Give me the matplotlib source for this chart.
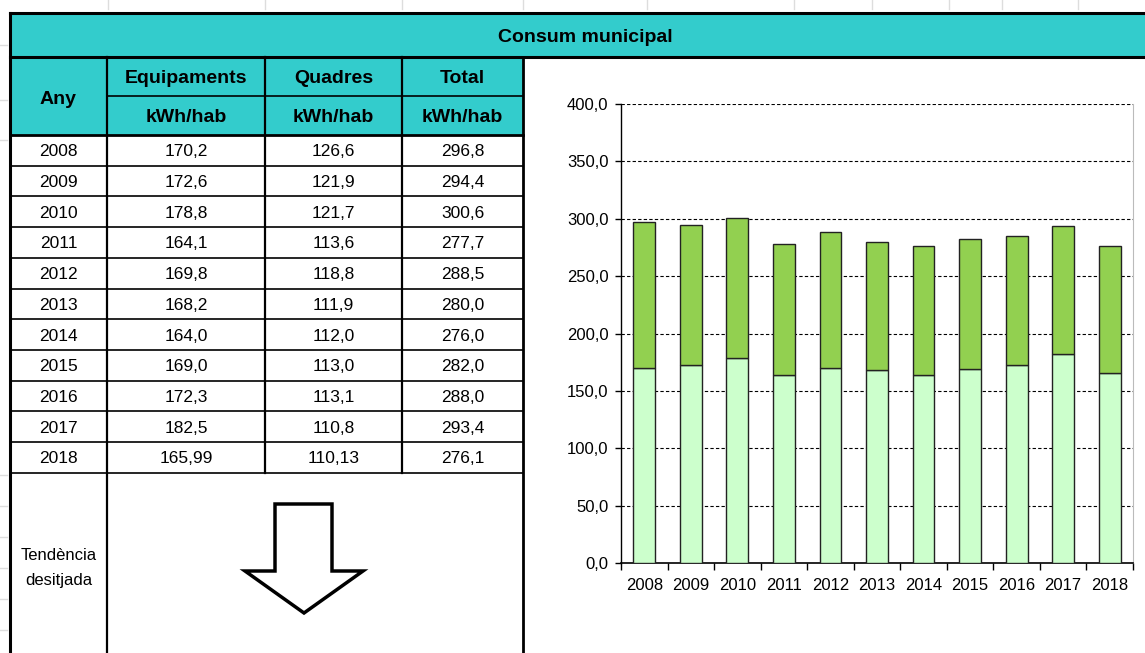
import matplotlib
matplotlib.use("Agg")
import matplotlib.pyplot as plt
from matplotlib.patches import Rectangle, Polygon
import numpy as np

plt.rcParams['font.family'] = ['Liberation Sans', 'DejaVu Sans']

# ---- data ----
years = ["2008", "2009", "2010", "2011", "2012", "2013", "2014", "2015", "2016", "2017", "2018"]
equip_lbl = ["170,2", "172,6", "178,8", "164,1", "169,8", "168,2", "164,0", "169,0", "172,3", "182,5", "165,99"]
quad_lbl = ["126,6", "121,9", "121,7", "113,6", "118,8", "111,9", "112,0", "113,0", "113,1", "110,8", "110,13"]
total_lbl = ["296,8", "294,4", "300,6", "277,7", "288,5", "280,0", "276,0", "282,0", "288,0", "293,4", "276,1"]
equipaments = [170.2, 172.6, 178.8, 164.1, 169.8, 168.2, 164.0, 169.0, 172.3, 182.5, 165.99]
quadres = [126.6, 121.9, 121.7, 113.6, 118.8, 111.9, 112.0, 113.0, 113.1, 110.8, 110.13]
yticks = [0, 50, 100, 150, 200, 250, 300, 350, 400]
title = "Consum municipal"
col_heads = ["Equipaments", "Quadres", "Total"]
unit = "kWh/hab"

W, H = 1145, 653
fig = plt.figure(figsize=(W / 100, H / 100), dpi=100)
bg = fig.add_axes([0, 0, 1, 1])
bg.set_xlim(0, W)
bg.set_ylim(H, 0)
bg.axis('off')

TEAL = '#33CCCC'
cx = [10, 107, 265, 402, 523]
y_top, y_h1, y_h2, y_h3 = 13, 57, 96, 135
row_h = 30.7
y_rows = [y_h3 + i * row_h for i in range(len(years) + 1)]
y_end_rows = y_rows[-1]

# faint spreadsheet grid
for x in [108, 265, 402, 523, 647, 794, 872, 949, 1002, 1078]:
    bg.plot([x, x], [0, 9], color='#dddddd', lw=1)
for y in [45, 100, 140] + [y_end_rows + 2 + i * 31 for i in range(6)]:
    bg.plot([0, 7], [y, y], color='#dddddd', lw=1)

bg.add_patch(Rectangle((cx[0], y_top), W - cx[0], y_h1 - y_top, facecolor=TEAL, edgecolor='none'))
bg.add_patch(Rectangle((cx[0], y_h1), cx[4] - cx[0], y_h3 - y_h1, facecolor=TEAL, edgecolor='none'))

lk = dict(color='black', solid_capstyle='projecting')
bg.plot([cx[0], W], [y_top, y_top], lw=2.2, **lk)
bg.plot([cx[0], W], [y_h1, y_h1], lw=2.2, **lk)
bg.plot([cx[1], cx[4]], [y_h2, y_h2], lw=1.2, **lk)
bg.plot([cx[0], cx[4]], [y_h3, y_h3], lw=2.0, **lk)
for y in y_rows[1:]:
    bg.plot([cx[0], cx[4]], [y, y], lw=1.2, **lk)
bg.plot([cx[0], cx[0]], [y_top, H], lw=2.2, **lk)
bg.plot([cx[1], cx[1]], [y_h1, H], lw=1.6, **lk)
bg.plot([cx[2], cx[2]], [y_h1, y_end_rows], lw=1.6, **lk)
bg.plot([cx[3], cx[3]], [y_h1, y_end_rows], lw=1.6, **lk)
bg.plot([cx[4], cx[4]], [y_h1, H], lw=2.0, **lk)

bg.text(585, (y_top + y_h1) / 2 + 3, title, ha='center', va='center', fontsize=14, fontweight='bold')
bg.text((cx[0] + cx[1]) / 2, (y_h1 + y_h3) / 2 + 3, "Any", ha='center', va='center', fontsize=14, fontweight='bold')
for i, h in enumerate(col_heads):
    xm = (cx[i + 1] + cx[i + 2]) / 2
    bg.text(xm, (y_h1 + y_h2) / 2 + 2, h, ha='center', va='center', fontsize=14, fontweight='bold')
    bg.text(xm, (y_h2 + y_h3) / 2 + 2, unit, ha='center', va='center', fontsize=14, fontweight='bold')

for r in range(len(years)):
    ym = (y_rows[r] + y_rows[r + 1]) / 2 + 1.5
    vals = [years[r], equip_lbl[r], quad_lbl[r], total_lbl[r]]
    for c, v in enumerate(vals):
        bg.text((cx[c] + cx[c + 1]) / 2, ym, v, ha='center', va='center', fontsize=12.5)

bg.text((cx[0] + cx[1]) / 2, 555, "Tendència", ha='center', va='center', fontsize=12)
bg.text((cx[0] + cx[1]) / 2, 581, "desitjada", ha='center', va='center', fontsize=12)

arrow = [(275, 504), (332, 504), (332, 571), (363, 571), (304, 613),
         (245, 571), (275, 571)]
bg.add_patch(Polygon(arrow, closed=True, facecolor='white', edgecolor='black', lw=2.5, joinstyle='miter'))

# ---- chart ----
px0, px1, py0, py1 = 621, 1133, 104, 563
ax = fig.add_axes([px0 / W, (H - py1) / H, (px1 - px0) / W, (py1 - py0) / H])
x = np.arange(len(years))
ax.bar(x, equipaments, width=0.47, color='#CCFFCC', edgecolor='#222222', linewidth=1.0, zorder=3)
ax.bar(x, quadres, bottom=equipaments, width=0.47, color='#92D050', edgecolor='#222222', linewidth=1.0, zorder=3)
ax.set_xlim(-0.5, len(years) - 0.5)
ax.set_ylim(0, 400)
ax.set_yticks(yticks)
ax.set_yticklabels([f"{v:.1f}".replace('.', ',') for v in yticks], fontsize=12)
for v in yticks[1:]:
    ax.axhline(v, color='black', lw=0.8, ls=(0, (3, 2)), zorder=1)
ax.set_xticks(x)
ax.set_xticklabels(years, fontsize=12)
ax.tick_params(axis='x', length=0, pad=11)
ax.set_xticks(np.arange(-0.5, len(years), 1), minor=True)
ax.tick_params(axis='x', which='minor', length=5, width=1, direction='out')
ax.tick_params(axis='y', length=4, width=1, direction='out', pad=5)
ax.spines['top'].set_visible(False)
ax.spines['right'].set_color('#bbbbbb')
ax.spines['left'].set_linewidth(1.0)
ax.spines['bottom'].set_linewidth(1.2)
ax.set_facecolor('none')

fig.savefig("out.png", dpi=100)
